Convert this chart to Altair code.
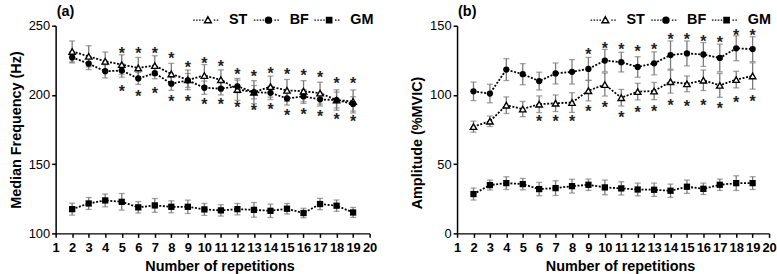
import altair as alt
import pandas as pd

FONT = "Liberation Sans"

reps = list(range(2, 20))

# Panel (a): Median frequency (Hz)
a_ST = [231.4, 227.9, 224.3, 221.9, 219.5, 221.2, 215.2, 210.9, 214.0, 211.0, 204.0, 202.0, 206.0, 203.3, 202.7, 201.3, 196.3, 195.3]
a_ST_err = [7.6, 7.6, 6.7, 7.1, 7.6, 7.1, 7.6, 7.1, 7.9, 7.1, 7.9, 8.3, 7.6, 7.9, 7.6, 7.9, 7.4, 8.3]
a_BF = [227.1, 222.6, 217.1, 217.6, 211.9, 215.7, 208.1, 210.5, 205.2, 204.5, 206.2, 202.0, 201.5, 197.5, 198.9, 196.8, 196.3, 193.5]
a_BF_err = [4.0, 4.3, 4.8, 4.8, 4.3, 4.0, 4.8, 5.0, 4.8, 4.5, 4.5, 4.8, 4.8, 4.8, 5.0, 4.8, 5.7, 5.2]
a_GM = [117.5, 121.6, 123.8, 122.8, 118.8, 120.2, 119.2, 119.2, 117.3, 116.6, 117.5, 117.0, 116.3, 117.8, 114.7, 121.2, 120.0, 115.1]
a_GM_err = [4.3, 4.3, 4.6, 6.0, 4.1, 5.0, 4.3, 4.8, 4.3, 4.1, 4.1, 5.3, 4.8, 3.8, 3.4, 4.1, 4.1, 3.6]
a_star_hi_x = list(range(5, 20))
a_star_hi_y = [232.1, 232.1, 232.1, 228.6, 222.4, 225.5, 222.9, 217.1, 215.7, 218.0, 217.0, 216.3, 215.0, 210.5, 210.5]
a_star_lo_x = list(range(5, 20))
a_star_lo_y = [204.8, 201.2, 203.6, 197.6, 197.6, 195.7, 195.7, 193.3, 191.4, 192.0, 187.8, 188.2, 187.0, 184.5, 183.2]

# Panel (b): Amplitude (%MVIC)
b_ST = [77.1, 81.0, 92.6, 89.8, 93.3, 94.0, 94.5, 103.1, 107.5, 98.0, 102.4, 102.8, 109.6, 108.0, 110.6, 106.9, 111.1, 113.7]
b_ST_err = [4.0, 3.8, 6.0, 5.5, 6.0, 6.0, 7.1, 7.4, 8.3, 6.0, 6.0, 6.2, 8.3, 5.7, 7.4, 8.6, 6.0, 9.5]
b_BF = [102.6, 101.0, 118.3, 115.0, 110.0, 115.5, 116.7, 118.8, 124.8, 123.7, 120.2, 122.8, 128.8, 130.0, 129.2, 126.7, 133.7, 133.1]
b_BF_err = [6.7, 6.7, 7.9, 7.6, 6.4, 7.6, 8.8, 8.3, 8.1, 7.1, 7.4, 8.3, 10.2, 9.0, 8.6, 10.0, 9.0, 9.0]
b_GM = [28.4, 34.9, 36.3, 35.6, 32.0, 32.7, 34.1, 35.1, 33.2, 32.5, 31.7, 31.5, 30.8, 33.7, 32.2, 35.1, 36.3, 36.3]
b_GM_err = [4.3, 3.6, 4.6, 4.1, 4.8, 5.3, 5.0, 4.1, 5.3, 4.8, 4.6, 4.8, 4.8, 4.8, 4.1, 4.1, 5.3, 4.6]
b_star_hi_x = list(range(9, 20))
b_star_hi_y = [131.9, 136.1, 135.6, 133.7, 135.6, 142.8, 142.8, 141.4, 140.5, 145.2, 145.2]
b_star_lo_x = list(range(6, 20))
b_star_lo_y = [83.3, 83.3, 83.3, 90.2, 93.2, 86.1, 89.5, 90.2, 94.9, 94.2, 94.9, 92.6, 96.7, 97.4]

series_names = ["ST", "BF", "GM"]
x_ticks = list(range(1, 21))


def dotted(x0, x1, skip=(-1.0, 1.0), dash=0.38, gap=0.36):
    parts = []
    x = x0
    while x + dash <= x1 + 1e-9:
        if x + dash <= skip[0] or x >= skip[1]:
            parts.append(f"M{x:.2f},0L{x + dash:.2f},0")
        x += dash + gap
    return "".join(parts)


line_part = dotted(-3.7, 3.3)
legend_paths = [
    line_part + "M0,-0.85L0.85,0.65L-0.85,0.65Z",
    line_part + "M0.75,0A0.75,0.75 0 1,1 -0.75,0A0.75,0.75 0 1,1 0.75,0Z",
    line_part + "M-0.65,-0.65L0.65,-0.65L0.65,0.65L-0.65,0.65Z",
]


def panel(st, st_e, bf, bf_e, gm, gm_e, hx, hy, lx, ly, ydom, yvals, ytitle, tag, width, title_y, leg_x):
    rows = []
    for name, m, e in [("ST", st, st_e), ("BF", bf, bf_e), ("GM", gm, gm_e)]:
        for r, v, ee in zip(reps, m, e):
            rows.append({"rep": r, "series": name, "mean": v, "lo": v - ee, "hi": v + ee})
    df = pd.DataFrame(rows)
    stars = pd.DataFrame({"rep": hx + lx, "mean": hy + ly})

    xaxis = alt.Axis(values=x_ticks, title="Number of repetitions", labelFontWeight="bold",
                     labelFlush=False, labelOverlap=False, labelPadding=4, titlePadding=5,
                     titleX=width / 2 + 7)
    yaxis = alt.Axis(values=yvals, title=ytitle, labelPadding=2, titlePadding=5, titleY=title_y)
    xs = alt.Scale(domain=[1, 20], nice=False, zero=False)
    ys = alt.Scale(domain=ydom, nice=False, zero=False)
    X = alt.X("rep:Q", scale=xs, axis=xaxis)
    Y = alt.Y("mean:Q", scale=ys, axis=yaxis)

    base = alt.Chart(df)
    lines = base.mark_line(color="black", strokeDash=[2, 1.6], strokeWidth=1.8).encode(
        x=X, y=Y, detail="series:N")
    err = base.mark_errorbar(ticks=True, size=6, thickness=1.3, color="#7a7a7a").encode(
        x=X, y=alt.Y("lo:Q", scale=ys, axis=yaxis), y2="hi:Q")
    p_st = base.transform_filter("datum.series == 'ST'").mark_point(
        shape="triangle-up", filled=True, fill="white", stroke="black", strokeWidth=1.4,
        size=42, opacity=1).encode(x=X, y=Y)
    p_bf = base.transform_filter("datum.series == 'BF'").mark_point(
        shape="circle", filled=True, color="black", size=40, opacity=1).encode(x=X, y=Y)
    p_gm = base.transform_filter("datum.series == 'GM'").mark_point(
        shape="square", filled=True, color="black", size=40, opacity=1).encode(x=X, y=Y)
    st_txt = alt.Chart(stars).mark_text(text="*", fontSize=16, font=FONT, fontWeight="bold",
                                        dy=4, color="#222222").encode(x=X, y=Y)
    tag_txt = alt.Chart(pd.DataFrame({"t": [tag]})).mark_text(
        align="left", baseline="alphabetic", fontSize=14.5, fontWeight="bold", font=FONT,
        color="black").encode(text="t:N", x=alt.value(1), y=alt.value(-10))

    leg = alt.Legend(orient="none", legendX=leg_x, legendY=-13, direction="horizontal",
                     title=None, symbolSize=64, symbolStrokeColor="black", symbolStrokeWidth=1.5,
                     symbolOpacity=1, labelFont=FONT, labelFontSize=14.5, labelFontWeight="bold",
                     labelColor="black", labelOffset=14, columnPadding=2, padding=0)
    legend_layer = alt.Chart(pd.DataFrame({"series": series_names})).transform_filter("false").mark_point(
        filled=True, strokeWidth=1.5, size=64, opacity=1).encode(
        shape=alt.Shape("series:N", scale=alt.Scale(domain=series_names, range=legend_paths), legend=leg),
        fill=alt.Fill("series:N", scale=alt.Scale(domain=series_names, range=["white", "black", "black"]),
                      legend=leg),
        stroke=alt.Stroke("series:N", scale=alt.Scale(domain=series_names, range=["black", "black", "black"]),
                          legend=leg),
    )

    return alt.layer(lines, err, p_st, p_bf, p_gm, st_txt, tag_txt, legend_layer).properties(
        width=width, height=209,
    )


pa = panel(a_ST, a_ST_err, a_BF, a_BF_err, a_GM, a_GM_err,
           a_star_hi_x, a_star_hi_y, a_star_lo_x, a_star_lo_y,
           [100, 250], [100, 150, 200, 250], "Median Frequency (Hz)", "(a)", 316, 104.5, 316 - 170)
pb = panel(b_ST, b_ST_err, b_BF, b_BF_err, b_GM, b_GM_err,
           b_star_hi_x, b_star_hi_y, b_star_lo_x, b_star_lo_y,
           [0, 150], [0, 50, 100, 150], "Amplitude (%MVIC)", "(b)", 314, 117.5, 314 - 172)

chart = alt.hconcat(pa, pb, spacing=32).resolve_scale(
    shape="independent", fill="independent", stroke="independent", x="independent", y="independent"
).resolve_legend(shape="independent", fill="independent", stroke="independent").properties(
    padding={"left": 8, "top": 3, "right": 0, "bottom": 0}, background="white"
).configure_view(stroke=None).configure_axis(
    domainColor="black", domainWidth=1.5, tickColor="black", tickWidth=1.5, tickSize=4,
    labelFont=FONT, labelFontSize=13, labelColor="black", titleFont=FONT, titleFontSize=14.5,
    titleFontWeight="bold", titleColor="black", grid=False,
)

chart.save("out.html", embed_options={"renderer": "svg", "actions": False})
